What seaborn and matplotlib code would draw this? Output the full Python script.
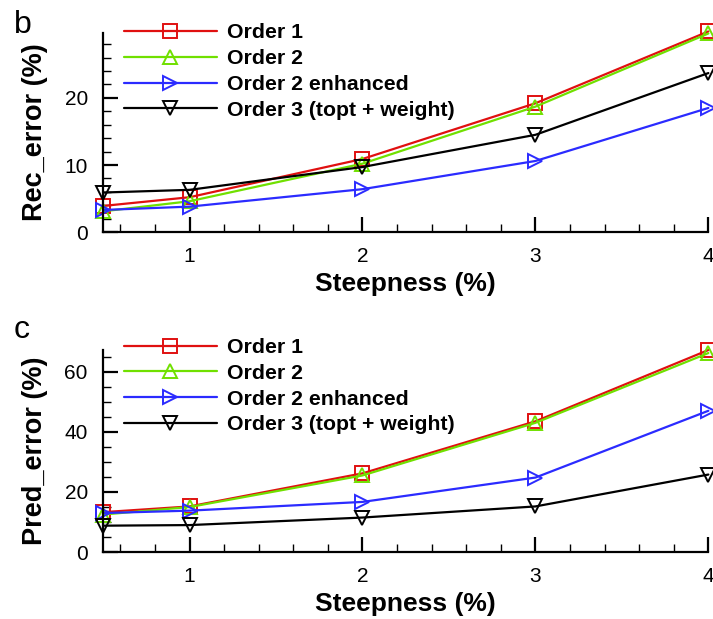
import pandas as pd
import matplotlib
matplotlib.use("Agg")
import matplotlib.pyplot as plt
import seaborn as sns
from matplotlib.ticker import MultipleLocator

steepness = [0.5, 1, 2, 3, 4]
series_names = ["Order 1", "Order 2", "Order 2 enhanced", "Order 3 (topt + weight)"]

rec_order1 = [3.9, 5.2, 10.9, 19.2, 29.9]
rec_order2 = [3.1, 4.6, 10.2, 18.7, 29.6]
rec_order2_enh = [3.3, 3.8, 6.4, 10.6, 18.5]
rec_order3 = [5.9, 6.3, 9.7, 14.5, 23.7]

pred_order1 = [13.3, 15.2, 26.2, 43.5, 67.2]
pred_order2 = [12.5, 15.0, 25.5, 43.0, 66.2]
pred_order2_enh = [13.0, 13.8, 16.7, 24.8, 47.0]
pred_order3 = [8.8, 9.0, 11.5, 15.2, 25.8]

colores = ["#e01010", "#70e000", "#2b2bff", "black"]
marcadores = ["s", "^", ">", "v"]

sns.set_theme(style="ticks")
plt.rcParams["font.family"] = ["Liberation Sans", "DejaVu Sans"]
plt.rcParams.update({"text.color": "black", "axes.labelcolor": "black",
                     "xtick.color": "black", "ytick.color": "black",
                     "axes.edgecolor": "black"})

fig = plt.figure(figsize=(7.13, 6.19), dpi=100)
ax_b = fig.add_axes([0.1445, 0.625, 0.849, 0.322])
ax_c = fig.add_axes([0.1445, 0.108, 0.849, 0.327])


def dibujar(ax, valores, ylabel, ymax, ymajor, yminor, leg_y):
    for nombre, vals, col, mk in zip(series_names, valores, colores, marcadores):
        df = pd.DataFrame({"x": steepness, "y": vals})
        sns.lineplot(data=df, x="x", y="y", ax=ax, color=col, marker=mk,
                     markersize=9.5, markerfacecolor="none", markeredgecolor=col,
                     markeredgewidth=1.4, linewidth=1.6, label=nombre, clip_on=False)
    ax.set_xlim(0.5, 4)
    ax.set_ylim(0, ymax)
    ax.xaxis.set_major_locator(MultipleLocator(1))
    ax.xaxis.set_minor_locator(MultipleLocator(0.2))
    ax.yaxis.set_major_locator(MultipleLocator(ymajor))
    ax.yaxis.set_minor_locator(MultipleLocator(yminor))
    ax.tick_params(which="major", direction="in", length=10.5, width=1.6, labelsize=15, pad=11)
    ax.tick_params(which="minor", direction="in", length=6, width=1.0)
    sns.despine(ax=ax)
    for s in ["left", "bottom"]:
        ax.spines[s].set_linewidth(1.6)
    ax.set_xlabel("Steepness (%)", fontsize=19, fontweight="bold", labelpad=4)
    ax.set_ylabel(ylabel, fontsize=19.5, fontweight="bold", labelpad=12)
    ax.legend(loc="upper left", bbox_to_anchor=(0.02, leg_y), frameon=False,
              prop={"size": 15.3, "weight": "bold"}, handlelength=4.4,
              handletextpad=0.45, labelspacing=0.32, borderaxespad=0)


dibujar(ax_b, [rec_order1, rec_order2, rec_order2_enh, rec_order3],
        "Rec_error (%)", 29.7, 10, 2, 1.09)
dibujar(ax_c, [pred_order1, pred_order2, pred_order2_enh, pred_order3],
        "Pred_error (%)", 67.3, 20, 5, 1.10)

fig.text(0.019, 0.947, "b", fontsize=23, va="baseline")
fig.text(0.019, 0.454, "c", fontsize=23, va="baseline")

fig.savefig("out.png", dpi=100)
